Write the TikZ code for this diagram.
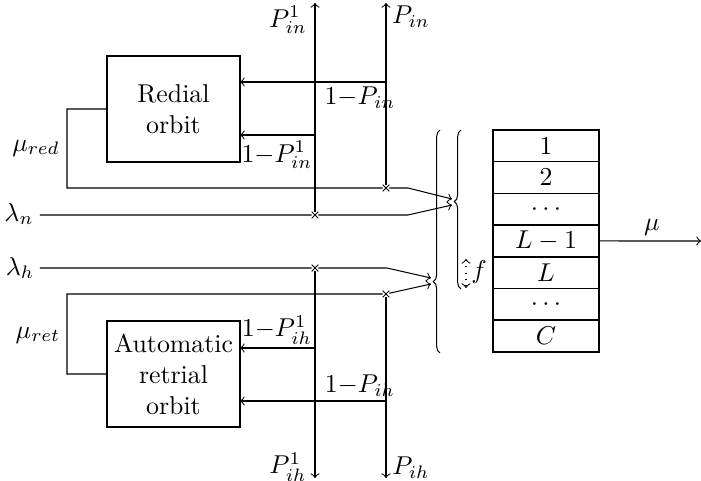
\documentclass[tikz,border=0pt]{standalone}
\usetikzlibrary{decorations.pathreplacing,shapes.misc}
\begin{document}
\begin{tikzpicture}[x=0.3876pt,y=-0.3876pt,
  orbitbox/.style={draw,inner sep=0pt,outer sep=0pt,minimum width=51.55pt,minimum height=41.09pt,align=center},
  cell/.style={draw,semithick,inner sep=0pt,outer sep=0pt,minimum width=41.09pt,minimum height=12.29pt},
  xmark/.style={draw,cross out,inner sep=0pt,outer sep=0pt,minimum size=2.6pt},
  lab/.style={inner sep=0pt},
  bracedec/.style={decorate,decoration={brace,amplitude=2.6pt,aspect=#1}},
  >=to]
\useasboundingbox (0,0) rectangle (701,481);
% orbit boxes
\node[orbitbox] (red) at (173.5,109) {Redial\\orbit};
\node[orbitbox] (ret) at (173.5,374) {Automatic\\retrial\\orbit};
% stack
\foreach \t [count=\i] in {1,2,\cdots,L-1,L,\cdots,C}{
  \node[cell] (c\i) at (546,{130+31.71*(\i-0.5)}) {$\t$};
}
% crossing marks
\node[xmark] (xa) at (386,188) {};
\node[xmark] (xb) at (315,215) {};
\node[xmark] (xc) at (315,268) {};
\node[xmark] (xd) at (386,294) {};
% coordinates
\coordinate (topA) at (315,3);
\coordinate (topB) at (386,3);
\coordinate (botA) at (315,478);
\coordinate (botB) at (386,478);
\coordinate (ra) at (386,82);
\coordinate (rb) at (315,135);
\coordinate (rc) at (315,348);
\coordinate (rd) at (386,401);
\coordinate (ln) at (40,215);
\coordinate (lh) at (40,268);
\coordinate (bendA) at (408,188);
\coordinate (bendB) at (408,215);
\coordinate (bendC) at (387,268);
\coordinate (tipA) at (452,199);
\coordinate (tipB) at (452,205);
\coordinate (tipC) at (431,278);
\coordinate (tipD) at (431,284);
\coordinate (mu) at (701,241);
\coordinate (fa) at (466,259);
\coordinate (fb) at (466,288);
% vertical probability lines
\draw[->] (xb) -- (topA);
\draw[->] (xa) -- (topB);
\draw[->] (xc) -- (botA);
\draw[->] (xd) -- (botB);
% horizontal returns to orbits
\draw[->] (ra) -- (ra -| red.east);
\draw[->] (rb) -- (rb -| red.east);
\draw[->] (rc) -- (rc -| ret.east);
\draw[->] (rd) -- (rd -| ret.east);
% flows to braces
\draw[->] (red.west |- 0,109) -- (67,109) -- (67,188) -- (xa) -- (bendA) -- (tipA);
\draw[->] (ln) -- (xb) -- (bendB) -- (tipB);
\draw[->] (lh) -- (xc) -- (bendC) -- (tipC);
\draw[->] (ret.west |- 0,374) -- (67,374) -- (67,294) -- (xd) -- (tipD);
% braces
\draw[bracedec=0.55] (461,289) -- (461,130);
\draw[bracedec=0.32] (440,353) -- (440,130);
% f arrow
\draw[dotted,<->] (fa) -- (fb);
\node[lab] (flab) at (479,272) {$f$};
% output
\draw[->] (c4.east) -- (mu);
\node[lab] (mulab) at (652,227) {$\mu$};
% labels
\node[lab] (l1) at (288,20) {$P_{in}^1$};
\node[lab] (l2) at (411,17) {$P_{in}$};
\node[lab] (l3) at (360,98) {$1{-}P_{in}$};
\node[lab] (l4) at (277,155) {$1{-}P_{in}^1$};
\node[lab] (l5) at (277,330) {$1{-}P_{ih}^1$};
\node[lab] (l6) at (360,386) {$1{-}P_{ih}$};
\node[lab] (l7) at (288,467) {$P_{ih}^1$};
\node[lab] (l8) at (411,468) {$P_{ih}$};
\node[lab] (l9) at (36,148) {$\mu_{red}$};
\node[lab] (l10) at (38,335) {$\mu_{ret}$};
\node[lab] (l11) at (19,214) {$\lambda_n$};
\node[lab] (l12) at (20,268) {$\lambda_h$};
\end{tikzpicture}
\end{document}
